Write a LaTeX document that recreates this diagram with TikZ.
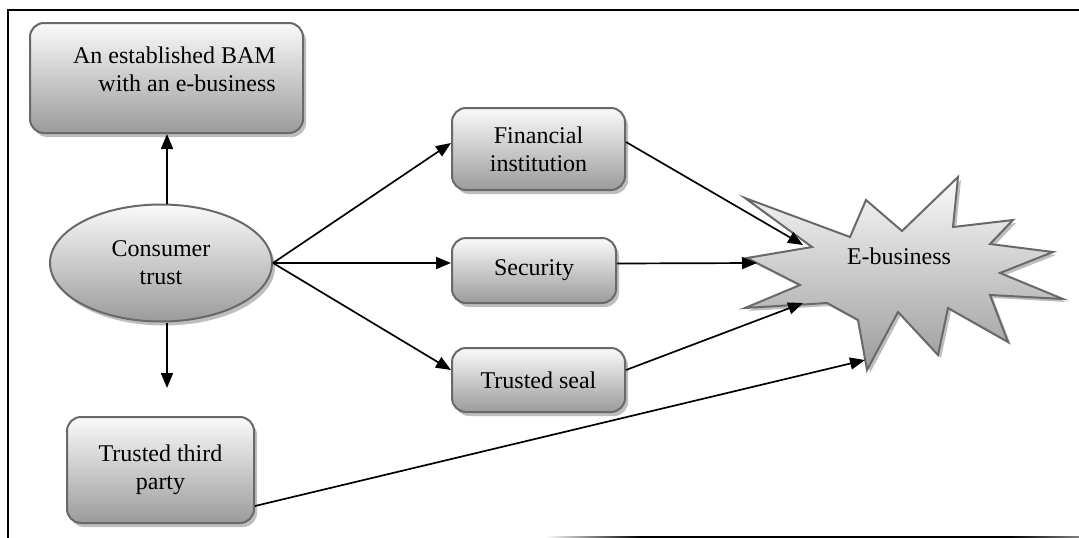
\documentclass[tikz,border=0pt]{standalone}
\usepackage{fontspec}
\setmainfont{Liberation Serif}
\usetikzlibrary{arrows.meta,shapes.geometric,shadows}
\definecolor{topc}{RGB}{250,250,250}
\definecolor{botc}{RGB}{155,155,155}
\definecolor{edgec}{RGB}{105,105,105}
\definecolor{shadc}{RGB}{190,190,190}
\begin{document}
\begin{tikzpicture}[x=1pt,y=-1pt,
  every node/.style={font=\fontsize{24}{28}\selectfont},
  box/.style={draw=edgec, line width=2pt, rounded corners=14pt, top color=topc, bottom color=botc, inner sep=0pt,
    drop shadow={shadow xshift=3pt, shadow yshift=-4pt, fill=shadc, opacity=1}},
  arr/.style={line width=1.7pt, -{Triangle[length=15pt,width=12pt]}},
  frame/.style={line width=2pt}
]
\useasboundingbox (0,0) rectangle (1079,538);

% frame
\draw[frame] (8,538) -- (8,10) -- (1079,10);
\shade[left color=white, right color=black] (545,536) rectangle (640,538);
\fill[black] (640,536) rectangle (1010,538);
\shade[left color=black, right color=gray] (1010,536) rectangle (1079,538);

% boxes
\node[box, minimum width=273pt, minimum height=110pt] (bam) at (166.5,78) {};
\node[align=right, anchor=east, inner sep=0pt] (bamtext) at (276,69) {An established BAM\\with an e-business};
\node[box, ellipse, minimum width=222pt, minimum height=117pt, align=center] (ct) at (161,263) {Consumer\\trust};
\node[box, minimum width=173pt, minimum height=82pt, align=center] (fin) at (538.5,149) {Financial\\institution};
\node[box, minimum width=164pt, minimum height=65pt] (sec) at (534,270.5) {Security};
\node[box, minimum width=173pt, minimum height=64pt] (seal) at (538.5,380) {Trusted seal};
\node[box, minimum width=187pt, minimum height=106pt, align=center] (ttp) at (160.5,470) {Trusted third\\party};

% starburst
\begin{scope}[shift={(3,3)}]
\fill[shadc] (745,198) -- (850,237) -- (866,200) -- (902,231) -- (958,177) -- (953,227) -- (1013,220) -- (990,244) -- (1053,252) -- (1000,273) -- (1063,299) -- (990,295) -- (1008,342) -- (948,308) -- (938,355) -- (898,312) -- (867,370) -- (858,320) -- (827,303) -- (745,308) -- (800,285) -- (747,258) -- (812,247) -- cycle;
\end{scope}
\shadedraw[draw=edgec, line width=2pt, top color=topc, bottom color=botc, line join=miter]
 (745,198) -- (850,237) -- (866,200) -- (902,231) -- (958,177) -- (953,227) -- (1013,220) -- (990,244) -- (1053,252) -- (1000,273) -- (1063,299) -- (990,295) -- (1008,342) -- (948,308) -- (938,355) -- (898,312) -- (867,370) -- (858,320) -- (827,303) -- (745,308) -- (800,285) -- (747,258) -- (812,247) -- cycle;
\node (eb) at (899,256) {E-business};

\coordinate (e1) at (803,245);
\coordinate (e2) at (757,263);
\coordinate (e3) at (803,303);
\coordinate (e4) at (865,360);
\coordinate (ctdown) at (167,388);

% connectors
\draw[arr] ([xshift=6pt]ct.north) -- ([xshift=6pt]ct.north |- bam.south);
\draw[arr] ([xshift=6pt]ct.south) -- (ctdown);
\draw[arr] (ct.east) -- ([yshift=6pt]fin.west);
\draw[arr] (ct.east) -- (ct.east -| sec.west);
\draw[arr] (ct.east) -- ([yshift=10pt]seal.west);
\draw[arr] ([yshift=7pt]fin.east) -- (e1);
\draw[arr] ([yshift=7pt]sec.east) -- (e2);
\draw[arr] ([yshift=10pt]seal.east) -- (e3);
\draw[arr] ([yshift=-36pt]ttp.east) -- (e4);
\end{tikzpicture}
\end{document}
